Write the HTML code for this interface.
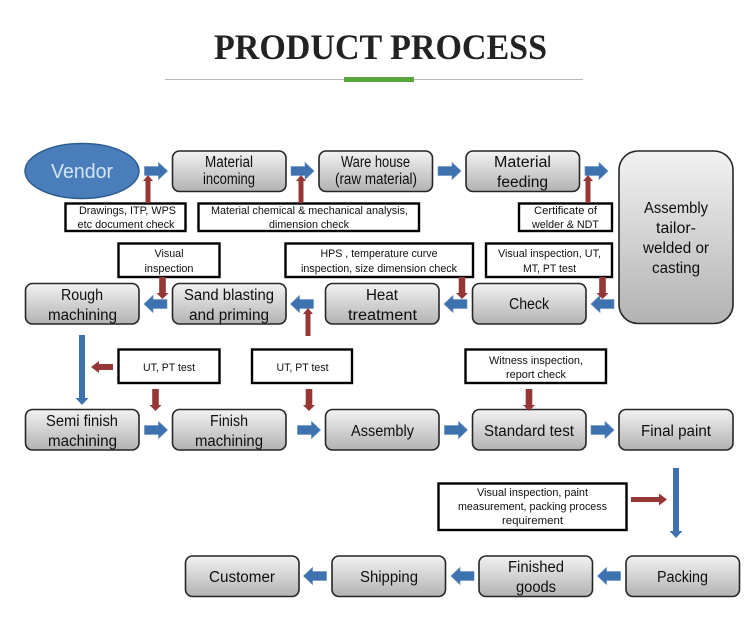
<!DOCTYPE html>
<html><head><meta charset="utf-8"><title>Product Process</title>
<style>
html,body{margin:0;padding:0;background:#fff;width:750px;height:644px;overflow:hidden}
svg{display:block}
.b{font:15.500px "Liberation Sans",sans-serif;fill:#111;text-anchor:middle}
.s{font:11px "Liberation Sans",sans-serif;fill:#111;text-anchor:middle}
.box rect{fill:url(#g);stroke:#262626;stroke-width:1.6}
.tb rect{fill:#fff;stroke:#000;stroke-width:2.4}
</style></head><body>
<svg width="750" height="644" viewBox="0 0 750 644" xmlns="http://www.w3.org/2000/svg">
<defs>
<linearGradient id="g" x1="0" y1="0" x2="0" y2="1"><stop offset="0" stop-color="#f2f2f2"/><stop offset="1" stop-color="#b2b2b2"/></linearGradient>
<polygon id="br" points="0,-4.5 14,-4.5 14,-8.500 23,0 14,8.500 14,4.5 0,4.5" fill="#3d72ae" stroke="#5b8ac0" stroke-width=".6"/>
<polygon id="rup" points="-2.500,28 -2.500,6 -5,6 0,0 5,6 2.500,6 2.500,28" fill="#953735"/>
<polygon id="rdn" points="-3.300,0 3.300,0 3.300,16 6,16 0,22 -6,16 -3.300,16" fill="#953735"/>
<filter id="soft" x="-2%" y="-2%" width="104%" height="104%"><feGaussianBlur stdDeviation="0.3"/></filter>
</defs>

<text x="380.500" y="59" text-anchor="middle" textLength="333" lengthAdjust="spacingAndGlyphs" style="font:bold 36px 'Liberation Serif',serif;fill:#222">PRODUCT PROCESS</text>
<rect x="165" y="79" width="418" height="1" fill="#b8b8b8"/>
<rect x="344" y="77" width="70" height="5" fill="#58a53c"/>

<g filter="url(#soft)">
<ellipse cx="82" cy="171" rx="57" ry="27.500" fill="#4a7ebb" stroke="#2f5d92" stroke-width="1.5"/>
<text x="82" y="178" text-anchor="middle" textLength="62" lengthAdjust="spacingAndGlyphs" style="font:20px 'Liberation Sans',sans-serif;fill:#d6e4f2">Vendor</text>

<g class="box">
<rect x="172.500" y="151" width="113.500" height="40.500" rx="7"/>
<rect x="319" y="151" width="113.500" height="40.500" rx="7"/>
<rect x="466" y="151" width="113.500" height="40.500" rx="7"/>
<rect x="619" y="151" width="114" height="172.500" rx="19"/>
<rect x="25.500" y="283.500" width="113.500" height="40.500" rx="7"/>
<rect x="172.500" y="283.500" width="113.500" height="40.500" rx="7"/>
<rect x="325.500" y="283.500" width="113.500" height="40.500" rx="7"/>
<rect x="472.500" y="283.500" width="113.500" height="40.500" rx="7"/>
<rect x="25.500" y="409.500" width="113.500" height="40.500" rx="7"/>
<rect x="172.500" y="409.500" width="113.500" height="40.500" rx="7"/>
<rect x="325.500" y="409.500" width="113.500" height="40.500" rx="7"/>
<rect x="472.500" y="409.500" width="113.500" height="40.500" rx="7"/>
<rect x="619" y="409.500" width="114" height="40.500" rx="7"/>
<rect x="626" y="556" width="113.500" height="40.500" rx="7"/>
<rect x="479" y="556" width="113.500" height="40.500" rx="7"/>
<rect x="332" y="556" width="113.500" height="40.500" rx="7"/>
<rect x="185.500" y="556" width="113.500" height="40.500" rx="7"/>
</g>

<g class="tb">
<rect x="65.500" y="203.500" width="120" height="27.500"/>
<rect x="198.500" y="203.500" width="220.500" height="27.500"/>
<rect x="519" y="203.500" width="93" height="27.500"/>
<rect x="118.500" y="243.500" width="101" height="33.500"/>
<rect x="285.500" y="243.500" width="187.500" height="33.500"/>
<rect x="486" y="243.500" width="126" height="33.500"/>
<rect x="118.500" y="349.500" width="101" height="33.500"/>
<rect x="252" y="349.500" width="100" height="33.500"/>
<rect x="465.500" y="349.500" width="140.500" height="33.500"/>
<rect x="438.500" y="483.500" width="188" height="46.500"/>
</g>

<!-- blue block arrows -->
<use href="#br" transform="translate(144.500,171)"/>
<use href="#br" transform="translate(291,171)"/>
<use href="#br" transform="translate(438,171)"/>
<use href="#br" transform="translate(585,171)"/>
<use href="#br" transform="translate(167,304) scale(-1,1)"/>
<use href="#br" transform="translate(313.500,304) scale(-1,1)"/>
<use href="#br" transform="translate(467,304) scale(-1,1)"/>
<use href="#br" transform="translate(614,304) scale(-1,1)"/>
<use href="#br" transform="translate(144.500,430)"/>
<use href="#br" transform="translate(297.500,430)"/>
<use href="#br" transform="translate(444.500,430)"/>
<use href="#br" transform="translate(591,430)"/>
<use href="#br" transform="translate(620.500,576) scale(-1,1)"/>
<use href="#br" transform="translate(474,576) scale(-1,1)"/>
<use href="#br" transform="translate(326.500,576) scale(-1,1)"/>
<polygon points="79,335 85,335 85,398 88.500,398 82,405 75.500,398 79,398" fill="#3d72ae"/>
<polygon points="673,468 679,468 679,531 682.500,531 676,538 669.500,531 673,531" fill="#3d72ae"/>

<!-- red arrows -->
<use href="#rup" transform="translate(148,175)"/>
<use href="#rup" transform="translate(301,175)"/>
<use href="#rup" transform="translate(588,175)"/>
<use href="#rdn" transform="translate(162.500,277)"/>
<use href="#rdn" transform="translate(462,277)"/>
<use href="#rdn" transform="translate(602.500,277)"/>
<use href="#rup" transform="translate(308,308)"/>
<polygon points="113,364 99,364 99,361 91,367 99,373 99,370 113,370" fill="#953735"/>
<use href="#rdn" transform="translate(155.500,389)"/>
<use href="#rdn" transform="translate(309,389)"/>
<use href="#rdn" transform="translate(529,389)"/>
<polygon points="631,497 659,497 659,493.500 667,499.500 659,505.500 659,502 631,502" fill="#953735"/>

<!-- process labels -->
<text class="b" x="229" y="167" textLength="48" lengthAdjust="spacingAndGlyphs">Material</text>
<text class="b" x="229" y="184" textLength="52" lengthAdjust="spacingAndGlyphs">incoming</text>
<text class="b" x="375.500" y="167" textLength="69" lengthAdjust="spacingAndGlyphs">Ware house</text>
<text class="b" x="376" y="184" textLength="82" lengthAdjust="spacingAndGlyphs">(raw material)</text>
<text class="b" x="522.500" y="167" textLength="57" lengthAdjust="spacingAndGlyphs">Material</text>
<text class="b" x="522.500" y="187" textLength="51" lengthAdjust="spacingAndGlyphs">feeding</text>
<text class="b" x="676" y="213" textLength="64" lengthAdjust="spacingAndGlyphs">Assembly</text>
<text class="b" x="676" y="233" textLength="40" lengthAdjust="spacingAndGlyphs">tailor-</text>
<text class="b" x="676" y="253" textLength="66" lengthAdjust="spacingAndGlyphs">welded or</text>
<text class="b" x="676" y="273" textLength="48" lengthAdjust="spacingAndGlyphs">casting</text>
<text class="b" x="82" y="300" textLength="42" lengthAdjust="spacingAndGlyphs">Rough</text>
<text class="b" x="82.500" y="320" textLength="69" lengthAdjust="spacingAndGlyphs">machining</text>
<text class="b" x="229" y="300" textLength="90" lengthAdjust="spacingAndGlyphs">Sand blasting</text>
<text class="b" x="229" y="320" textLength="80" lengthAdjust="spacingAndGlyphs">and priming</text>
<text class="b" x="382" y="300" textLength="32" lengthAdjust="spacingAndGlyphs">Heat</text>
<text class="b" x="382.500" y="320" textLength="69" lengthAdjust="spacingAndGlyphs">treatment</text>
<text class="b" x="529" y="309" textLength="40" lengthAdjust="spacingAndGlyphs">Check</text>
<text class="b" x="82" y="426" textLength="72" lengthAdjust="spacingAndGlyphs">Semi finish</text>
<text class="b" x="82.500" y="446" textLength="69" lengthAdjust="spacingAndGlyphs">machining</text>
<text class="b" x="229" y="426" textLength="38" lengthAdjust="spacingAndGlyphs">Finish</text>
<text class="b" x="229" y="446" textLength="68" lengthAdjust="spacingAndGlyphs">machining</text>
<text class="b" x="382.500" y="436" textLength="63" lengthAdjust="spacingAndGlyphs">Assembly</text>
<text class="b" x="529" y="436" textLength="90" lengthAdjust="spacingAndGlyphs">Standard test</text>
<text class="b" x="676" y="436" textLength="70" lengthAdjust="spacingAndGlyphs">Final paint</text>
<text class="b" x="682.500" y="582" textLength="51" lengthAdjust="spacingAndGlyphs">Packing</text>
<text class="b" x="536" y="572" textLength="56" lengthAdjust="spacingAndGlyphs">Finished</text>
<text class="b" x="536" y="592" textLength="40" lengthAdjust="spacingAndGlyphs">goods</text>
<text class="b" x="389" y="582" textLength="58" lengthAdjust="spacingAndGlyphs">Shipping</text>
<text class="b" x="242" y="582" textLength="66" lengthAdjust="spacingAndGlyphs">Customer</text>

<!-- inspection labels -->
<text class="s" x="127.500" y="214" textLength="97" lengthAdjust="spacingAndGlyphs">Drawings, ITP, WPS</text>
<text class="s" x="126" y="228" textLength="97" lengthAdjust="spacingAndGlyphs">etc document check</text>
<text class="s" x="309.500" y="214" textLength="197" lengthAdjust="spacingAndGlyphs">Material chemical &amp; mechanical analysis,</text>
<text class="s" x="309" y="228" textLength="80" lengthAdjust="spacingAndGlyphs">dimension check</text>
<text class="s" x="565.500" y="214" textLength="63" lengthAdjust="spacingAndGlyphs">Certificate of</text>
<text class="s" x="565.500" y="228" textLength="67" lengthAdjust="spacingAndGlyphs">welder &amp; NDT</text>
<text class="s" x="169" y="257" textLength="29" lengthAdjust="spacingAndGlyphs">Visual</text>
<text class="s" x="169" y="272" textLength="49" lengthAdjust="spacingAndGlyphs">inspection</text>
<text class="s" x="379" y="257" textLength="117" lengthAdjust="spacingAndGlyphs">HPS , temperature curve</text>
<text class="s" x="379" y="272" textLength="156" lengthAdjust="spacingAndGlyphs">inspection, size dimension check</text>
<text class="s" x="549.500" y="257" textLength="103" lengthAdjust="spacingAndGlyphs">Visual inspection, UT,</text>
<text class="s" x="549.500" y="272" textLength="53" lengthAdjust="spacingAndGlyphs">MT, PT test</text>
<text class="s" x="169" y="371" textLength="52" lengthAdjust="spacingAndGlyphs">UT, PT test</text>
<text class="s" x="302.500" y="371" textLength="52" lengthAdjust="spacingAndGlyphs">UT, PT test</text>
<text class="s" x="536" y="364" textLength="94" lengthAdjust="spacingAndGlyphs">Witness inspection,</text>
<text class="s" x="536" y="378" textLength="60" lengthAdjust="spacingAndGlyphs">report check</text>
<text class="s" x="532.500" y="496" textLength="111" lengthAdjust="spacingAndGlyphs">Visual inspection, paint</text>
<text class="s" x="532.500" y="510" textLength="149" lengthAdjust="spacingAndGlyphs">measurement, packing process</text>
<text class="s" x="532.500" y="524" textLength="61" lengthAdjust="spacingAndGlyphs">requirement</text>
</g>
</svg>
</body></html>
